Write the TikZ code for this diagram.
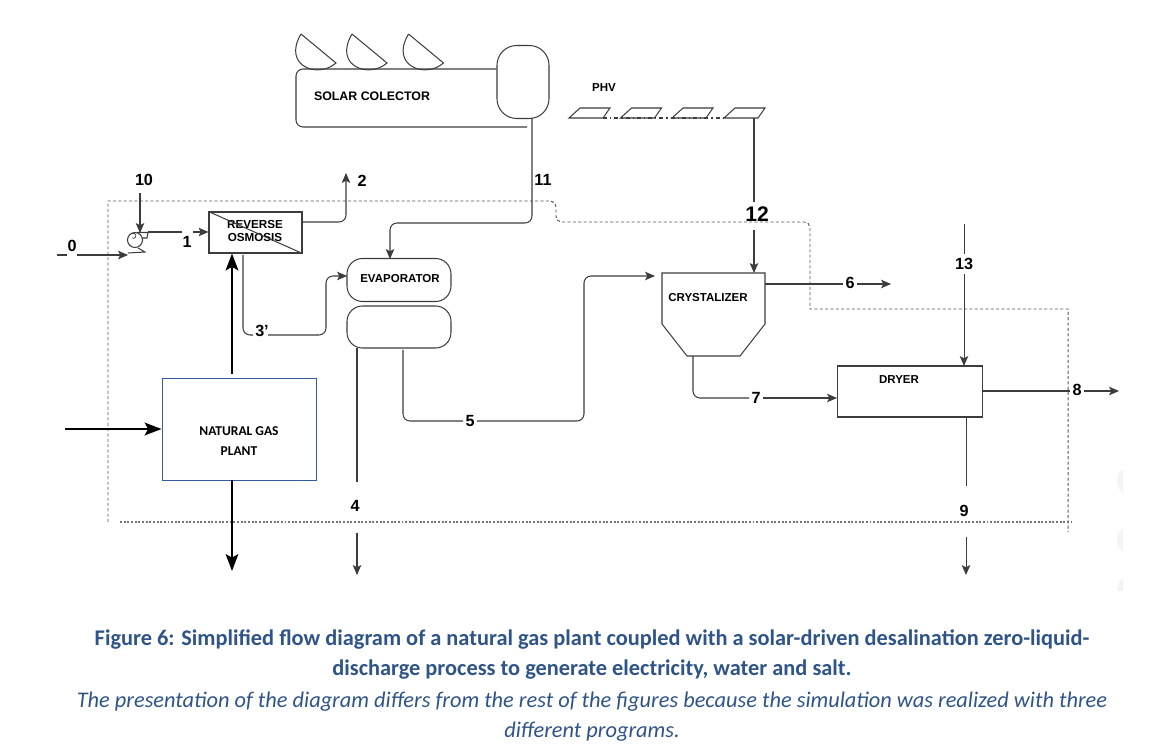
\documentclass[tikz,border=0pt]{standalone}
\usepackage{fontspec}
\setmainfont{Liberation Sans}
\newfontfamily\capfont{Carlito}
\usetikzlibrary{arrows.meta}
\definecolor{capblue}{HTML}{2F5488}
\definecolor{plantblue}{HTML}{2F5D9E}
\definecolor{linegray}{HTML}{3C3C3C}
\newcommand{\px}{0.025cm}
\begin{document}
\begin{tikzpicture}[x=0.025cm, y=-0.025cm,
    line/.style={draw=linegray, line width=0.72pt},
    flow/.style={line, -{Stealth[length=7pt, width=6pt, inset=1.5pt]}},
    heavy/.style={draw=black, line width=1.7pt, -{Stealth[length=12pt, width=9pt, inset=2.5pt]}},
    block/.style={line, fill=white, inner sep=0pt, font=\bfseries\fontsize{8.3}{9.4}\selectfont, align=center},
    stream/.style={inner xsep=1.5pt, inner ysep=3pt, font=\bfseries\fontsize{11.5}{13}\selectfont},
    tag/.style={inner sep=0pt, font=\bfseries\fontsize{8.2}{9.4}\selectfont},
    boundary/.style={draw=linegray!85, line width=0.7pt, dash pattern=on 2.2pt off 1.6pt},
    captitle/.style={font=\capfont\bfseries\fontsize{15.9}{18}\selectfont, text=capblue},
    capnote/.style={font=\capfont\itshape\fontsize{15.9}{18}\selectfont, text=capblue}]

\useasboundingbox (0,0) rectangle (1160,754);

% faint marks on the right edge
\begin{scope}
\clip (1100,450) rectangle (1123,590);
\foreach \y in {481,540,590} {
    \fill[gray!9] (1132,\y) circle[radius=15];
}
\end{scope}

% plant boundary
\draw[boundary] (108,522) -- (108,201) -- (550,201) {[rounded corners=4pt] -- (556,201) -- (556,222) -- (810,222) -- (810,270)} -- (810,309) -- (1068,309) -- (1068,532);
\draw[boundary, draw=linegray!70, line width=0.8pt, dash pattern=on 1.4pt off 1.2pt] (120,522) -- (1071,522);

% solar field
\foreach \s in {0,51,107.5} {
    \draw[line] (301+\s,34) -- (336+\s,63) .. controls (318+\s,79) and (282+\s,66) .. (301+\s,34);
}
\node[block, rounded corners=14pt, minimum width=52*\px, minimum height=73*\px] (tank) at (523,82) {};
\draw[line, rounded corners=5pt] (tank.west |- 0,69) -- (296,69) -- (296,127) -- (527,127);
\node[tag, font=\bfseries\fontsize{8.8}{10}\selectfont] (solar) at (372,96) {SOLAR COLECTOR};

% photovoltaic panels
\node[tag] (phv) at (604,88) {PHV};
\foreach \s in {0,51.5,103,155} {
    \draw[line] (569+\s,118) -- (580+\s,108) -- (610+\s,108) -- (603+\s,118) -- cycle;
}
\draw[line, dash pattern=on 3pt off 2pt on 1pt off 2pt] (603,118) -- (724,118);
\coordinate (panel) at (754,118);

% process units
\node[block, minimum width=93*\px, minimum height=41*\px] (osmosis) at (255.5,232.5) {};
\node[tag, align=center, font=\bfseries\fontsize{8.3}{9.6}\selectfont] (rotext) at (255,231) {REVERSE\\OSMOSIS};
\draw[line] (osmosis.north west) -- (osmosis.south east);
\node[block, rounded corners=11pt, minimum width=104*\px, minimum height=43*\px] (evap) at (399,280) {};
\node[tag] (evaptext) at (400,279) {EVAPORATOR};
\node[block, rounded corners=11pt, minimum width=104*\px, minimum height=42*\px] (evapb) at (399,327) {};
\draw[line] (662,273) -- (765,273) -- (765,324) -- (740,356) -- (687,356) -- (662,324) -- cycle;
\node[tag] (cryst) at (708,298) {CRYSTALIZER};
\node[block, minimum width=145*\px, minimum height=51*\px] (dryer) at (909.5,391.5) {};
\node[tag] (drytext) at (899,380) {DRYER};
\node[draw=plantblue, line width=0.6pt, fill=white, minimum width=154*\px, minimum height=102*\px] (plant) at (239,429) {};
\node[align=center, inner sep=0pt, font=\capfont\bfseries\fontsize{9.6}{14.2}\selectfont] (planttext) at (239,441) {NATURAL GAS\\PLANT};

% pump
\draw[line, fill=white] (135,240) circle[radius=7.5];
\draw[line] (137,232.5) -- (148,232.5) -- (147,238) -- (142,238);
\draw[line] (138,248) -- (145,252) -- (128,253);
\draw[line, line width=0.5pt] (132,238) arc[start angle=120, end angle=-130, radius=2.6];
\coordinate (pumpin) at (128,255);
\coordinate (pumptop) at (140,233);
\coordinate (pumpout) at (148,232);

% stream labels
\node[stream] (s0) at (72,246) {0};
\node[stream] (s1) at (187,242) {1};
\node[stream] (s2) at (362,181) {2};
\node[stream] (s3) at (262,331) {3'};
\node[stream] (s4) at (355,506) {4};
\node[stream] (s5) at (470,421) {5};
\node[stream] (s6) at (850,283) {6};
\node[stream] (s7) at (756,398) {7};
\node[stream] (s8) at (1077,390) {8};
\node[stream] (s9) at (964,511) {9};
\node[stream] (s10) at (144,180) {10};
\node[stream] (s11) at (543,180) {11};
\node[stream, font=\bfseries\fontsize{15}{17}\selectfont] (s12) at (757,214) {12};
\node[stream] (s13) at (964,264) {13};

% stream ends and bends
\coordinate (in0) at (57,255);
\coordinate (a0) at (67,255);
\coordinate (b0) at (77,255);
\coordinate (top10) at (140,193);
\coordinate (a1) at (182,232);
\coordinate (b1) at (193,232);
\coordinate (out2) at (302,222);
\coordinate (tip2) at (346,173);
\coordinate (from3) at (243,255);
\coordinate (mid3) at (243,335);
\coordinate (a3) at (253,335);
\coordinate (b3) at (268,335);
\coordinate (bend3) at (326,335);
\coordinate (into3) at (347,276);
\coordinate (from11) at (532,118);
\coordinate (bend11) at (532,223);
\coordinate (turn11) at (390,223);
\coordinate (into11) at (390,259);
\coordinate (from4) at (357,348);
\coordinate (end4) at (357,482);
\coordinate (a4) at (357,533);
\coordinate (tip4) at (357,575);
\coordinate (from5) at (403,350);
\coordinate (turn5) at (403,421);
\coordinate (bend5) at (584,421);
\coordinate (up5) at (584,276);
\coordinate (tip5) at (655,276);
\coordinate (into12) at (754,273);
\coordinate (end12) at (754,202);
\coordinate (a12) at (754,230);
\coordinate (from6) at (765,284);
\coordinate (tip6) at (891,284);
\coordinate (from7) at (693,356);
\coordinate (turn7) at (693,398);
\coordinate (into7) at (837,398);
\coordinate (top13) at (964,224);
\coordinate (into13) at (964,366);
\coordinate (from8) at (982,391);
\coordinate (tip8) at (1119,391);
\coordinate (from9) at (966,417);
\coordinate (end9) at (966,486);
\coordinate (a9) at (966,537);
\coordinate (tip9) at (966,575);

% streams
\draw[line] (in0) -- (a0);
\draw[flow] (b0) -- (pumpin);
\draw[flow] (top10) -- (pumptop);
\draw[line] (pumpout) -- (a1);
\draw[flow] (b1) -- (osmosis.west |- b1);
\draw[flow, rounded corners=5pt] (out2) -- (tip2 |- out2) -- (tip2);
\draw[line, rounded corners=5pt] (from3) -- (mid3) -- (a3);
\draw[flow, rounded corners=5pt] (b3) -- (bend3) -- (bend3 |- into3) -- (into3);
\draw[flow, rounded corners=5pt] (from11) -- (bend11) -- (turn11) -- (into11);
\draw[line] (from4) -- (end4);
\draw[flow] (a4) -- (tip4);
\draw[line, rounded corners=5pt] (from5) -- (turn5) -- (s5.west);
\draw[flow, rounded corners=5pt] (s5.east) -- (bend5) -- (up5) -- (tip5);
\draw[line] (panel) -- (end12);
\draw[flow] (a12) -- (into12);
\draw[line] (from6) -- (s6.west |- from6);
\draw[flow] (s6.east |- from6) -- (tip6);
\draw[line, rounded corners=5pt] (from7) -- (turn7) -- (s7.west);
\draw[flow] (s7.east) -- (into7);
\draw[line] (top13) -- (s13.north);
\draw[flow] (s13.south) -- (into13);
\draw[line] (from8) -- (s8.west |- from8);
\draw[flow] (s8.east |- from8) -- (tip8);
\draw[line] (from9) -- (end9);
\draw[flow] (a9) -- (tip9);

% natural gas plant streams
\coordinate (fuel) at (65,429);
\coordinate (steamend) at (232,374);
\coordinate (exhaust) at (232,571);
\draw[heavy] (steamend) -- (steamend |- osmosis.south);
\draw[heavy] (fuel) -- (plant.west |- fuel);
\draw[heavy] (plant.south -| exhaust) -- (exhaust);

% caption
\node[captitle] (cap1) at (592,640) {Figure 6: Simplified flow diagram of a natural gas plant coupled with a solar-driven desalination zero-liquid-};
\node[captitle] (cap2) at (592,670) {discharge process to generate electricity, water and salt.};
\node[capnote] (cap3) at (592,702) {The presentation of the diagram differs from the rest of the figures because the simulation was realized with three};
\node[capnote] (cap4) at (592,732) {different programs.};

\end{tikzpicture}
\end{document}
